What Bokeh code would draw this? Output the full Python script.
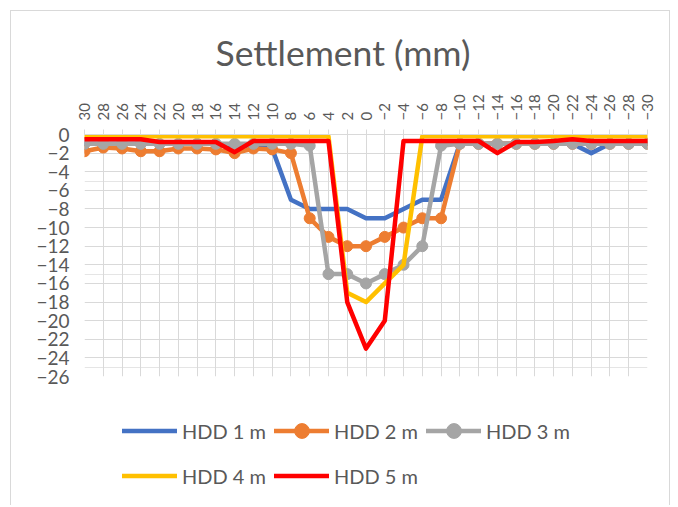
from bokeh.plotting import figure
from bokeh.models import Range1d, LinearAxis, FixedTicker, Legend, LegendItem, Grid
from bokeh.layouts import column
from bokeh.embed import file_html
from bokeh.resources import INLINE
import math

distance = [30, 28, 26, 24, 22, 20, 18, 16, 14, 12, 10, 8, 6, 4, 2, 0,
            -2, -4, -6, -8, -10, -12, -14, -16, -18, -20, -22, -24, -26, -28, -30]

hdd1 = [-1, -1, -1, -1, -1, -1, -1, -1, -1.5, -1, -1.5, -7, -8, -8, -8, -9,
        -9, -8, -7, -7, -1, -1, -1, -1, -1, -1, -1, -2, -1, -1, -1]
hdd2 = [-1.8, -1.4, -1.5, -1.8, -1.8, -1.5, -1.5, -1.6, -2, -1.5, -1.6, -2, -9, -11, -12, -12,
        -11, -10, -9, -9, -1, -1, -1, -1, -1, -1, -1, -1, -1, -1, -1]
hdd3 = [-1, -1, -1, -1, -1, -1, -1, -1, -1, -1, -1, -1, -1.2, -15, -15, -16,
        -15, -14, -12, -1.2, -1, -1, -1, -1, -1, -1, -1, -1, -1, -1, -1]
hdd4 = [-0.2, -0.2, -0.2, -0.2, -0.2, -0.2, -0.2, -0.2, -0.2, -0.2, -0.2, -0.2, -0.2, -0.2, -17, -18,
        -16, -14, -0.2, -0.2, -0.2, -0.2, -0.2, -0.2, -0.2, -0.2, -0.2, -0.2, -0.2, -0.2, -0.2]
hdd5 = [-0.5, -0.5, -0.5, -0.5, -0.8, -0.8, -0.8, -0.8, -1.9, -0.7, -0.7, -0.7, -0.7, -0.7, -18, -23,
        -20, -0.7, -0.7, -0.7, -0.7, -0.7, -2, -0.8, -0.8, -0.7, -0.5, -0.7, -0.7, -0.7, -0.7]

y_ticks = [0, -2, -4, -6, -8, -10, -12, -14, -16, -18, -20, -22, -24, -26]

names = ["HDD 1 m", "HDD 2 m", "HDD 3 m", "HDD 4 m", "HDD 5 m"]
colors = ["#4472C4", "#ED7D31", "#A5A5A5", "#FFC000", "#FF0000"]
markers = [False, True, True, False, False]
series = [hdd1, hdd2, hdd3, hdd4, hdd5]

FONT = "Lato"
TXT = "#595959"
GRID = "#D9D9D9"
LW = 4.5
MS = 11

p = figure(width=658, height=380, output_backend="svg", toolbar_location=None,
           x_range=Range1d(30, -30), y_range=Range1d(-26, 0),
           x_axis_location=None, y_axis_location=None,
           min_border_left=73, min_border_right=22, min_border_top=122, min_border_bottom=15,
           title="Settlement (mm)")
p.outline_line_color = None
p.background_fill_color = "white"
p.border_fill_color = "white"

p.title.align = "left"
p.title.offset = 131
p.title.text_font = FONT
p.title.text_font_size = "35.5px"
p.title.text_font_style = "normal"
p.title.text_color = TXT
p.title.standoff = 35

xaxis = LinearAxis(ticker=FixedTicker(ticks=distance))
xaxis.major_label_orientation = math.pi / 2
xaxis.major_label_text_font = FONT
xaxis.major_label_text_font_size = "15px"
xaxis.major_label_text_color = TXT
xaxis.major_label_standoff = 9
xaxis.axis_line_color = GRID
xaxis.major_tick_line_color = GRID
xaxis.major_tick_out = 5
xaxis.major_tick_in = 0
xaxis.minor_tick_line_color = None
p.add_layout(xaxis, "above")

yaxis = LinearAxis(ticker=FixedTicker(ticks=y_ticks))
yaxis.major_label_text_font = FONT
yaxis.major_label_text_font_size = "19px"
yaxis.major_label_text_color = TXT
yaxis.major_label_standoff = 9
yaxis.axis_line_color = None
yaxis.major_tick_line_color = None
yaxis.minor_tick_line_color = None
p.add_layout(yaxis, "left")

p.add_layout(Grid(dimension=0, ticker=FixedTicker(ticks=distance), grid_line_color=GRID))
p.add_layout(Grid(dimension=1, ticker=FixedTicker(ticks=y_ticks), grid_line_color=GRID))

for col, mk, ys in zip(colors, markers, series):
    p.line(distance, ys, line_color=col, line_width=LW, line_join="round", line_cap="round")
    if mk:
        p.scatter(distance, ys, marker="circle", size=MS, fill_color=col, line_color=col)

# legend strip below the chart (same series, drawn outside this strip's visible range)
p2 = figure(width=658, height=114, output_backend="svg", toolbar_location=None,
            x_range=Range1d(0, 1), y_range=Range1d(50, 51),
            x_axis_location=None, y_axis_location=None, min_border=0)
p2.outline_line_color = None
p2.grid.visible = False
p2.border_fill_color = "white"
p2.background_fill_color = "white"

items = []
for name, col, mk, ys in zip(names, colors, markers, series):
    r = [p2.line(distance, ys, line_color=col, line_width=LW, line_cap="round")]
    if mk:
        r.append(p2.scatter(distance, ys, marker="circle", size=MS, fill_color=col, line_color=col))
    items.append(LegendItem(label=name, renderers=r))

legend = Legend(items=items, orientation="horizontal", ncols=3,
                location=(38, 11), padding=0, margin=0, spacing=8,
                glyph_width=55, glyph_height=37, label_height=37, label_width=83,
                label_standoff=5, label_text_font=FONT, label_text_font_size="20px",
                label_text_color=TXT, border_line_color=None, background_fill_alpha=0)
p2.add_layout(legend)

layout = column(p, p2, spacing=0, margin=(10, 0, 0, 10),
                styles={"border-top": "1px solid #D9D9D9", "border-left": "1px solid #D9D9D9",
                        "border-right": "1px solid #D9D9D9"})

open("out.html", "w").write(file_html(layout, INLINE))
